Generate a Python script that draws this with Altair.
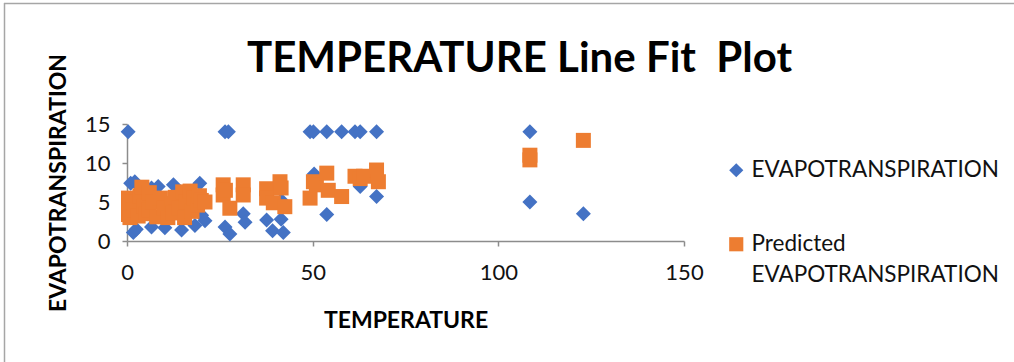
import altair as alt
import pandas as pd

# Observed evapotranspiration vs temperature
temperature_obs = [0.3, 26.4, 27.3, 49.3, 50.2, 53.8, 57.8, 61.4, 62.8, 67.2, 108.5,
                   1.0, 2.1, 6.6, 8.4, 12.5, 19.6,
                   1.7, 2.5, 6.6, 10.2, 14.7, 18.3, 20.1, 21.0,
                   3.0, 10.0, 16.0,
                   26.4, 27.7, 31.3, 31.8, 37.6, 39.2, 41.5, 42.1, 41.6,
                   50.4, 53.8, 62.8, 67.2, 108.5, 122.9]
evapo_obs = [14.0, 14.0, 14.0, 14.0, 14.0, 14.0, 14.0, 14.0, 14.0, 14.0, 14.0,
             7.4, 7.6, 6.8, 7.0, 7.2, 7.4,
             1.1, 1.5, 1.8, 1.7, 1.4, 2.0, 3.3, 2.6,
             4.5, 5.0, 4.0,
             1.8, 0.9, 3.5, 2.4, 2.7, 1.3, 2.8, 1.1, 5.2,
             8.6, 3.4, 7.0, 5.7, 5.0, 3.5]

# Fitted (predicted) evapotranspiration
temperature_pred = [0.4, 0.4, 0.4, 0.8, 1.5, 2.0, 3.0, 3.5, 4.0, 4.5, 5.0, 6.0, 6.0, 7.0,
                    8.0, 9.0, 10.0, 11.0, 12.0, 12.5, 13.0, 14.0, 15.0, 15.5, 16.0, 17.0,
                    17.5, 18.0, 19.0, 19.5, 20.0, 21.0,
                    25.9, 25.9, 27.7, 26.5, 31.3, 31.3, 37.6, 37.6, 39.4, 41.2, 41.5, 42.5,
                    49.3, 50.2, 51.0, 53.8, 54.2, 57.8, 61.4, 62.8, 63.7, 67.2, 67.7,
                    108.5, 108.5, 122.9]
evapo_pred = [5.5, 4.5, 3.4, 3.0, 5.0, 4.0, 3.2, 5.8, 6.9, 4.5, 3.5, 6.2, 4.0, 5.0,
              3.1, 5.5, 4.2, 3.0, 4.8, 3.6, 5.6, 4.2, 6.3, 3.0, 5.0, 6.4,
              3.8, 5.5, 4.6, 5.8, 5.2, 5.0,
              7.2, 5.9, 4.2, 6.5, 7.2, 5.9, 6.7, 5.5, 4.9, 7.6, 6.8, 4.4,
              5.5, 7.6, 7.2, 8.7, 6.5, 5.7, 8.3, 8.0, 8.3, 9.1, 7.6,
              10.4, 11.0, 12.9]

SERIES = ["EVAPOTRANSPIRATION", "Predicted EVAPOTRANSPIRATION"]
COLORS = ["#4472C4", "#ED7D31"]
SHAPES = ["diamond", "square"]
X_TICKS = [0, 50, 100, 150]
Y_TICKS = [0, 5, 10, 15]

obs = pd.DataFrame({"TEMPERATURE": temperature_obs, "value": evapo_obs, "series": SERIES[0]})
pred = pd.DataFrame({"TEMPERATURE": temperature_pred, "value": evapo_pred, "series": SERIES[1]})
df = pd.concat([obs, pred], ignore_index=True)

FONT = "Lato"
AXIS_GRAY = "#8c8c8c"
TEXT = "#111111"

legend = alt.Legend(
    title=None, orient="none", legendX=598, legendY=35,
    labelFont=FONT, labelFontSize=22.5, labelColor=TEXT, labelLimit=400,
    labelOffset=4, symbolSize=200, symbolStrokeWidth=0, rowPadding=51,
    labelExpr="datum.label == 'Predicted EVAPOTRANSPIRATION' ? ['Predicted', 'EVAPOTRANSPIRATION'] : datum.label",
)

points = alt.Chart(df).mark_point(filled=True, size=225, opacity=1).encode(
    x=alt.X("TEMPERATURE:Q",
            scale=alt.Scale(domain=[0, 150], nice=False, zero=False),
            axis=alt.Axis(values=X_TICKS, title="TEMPERATURE", grid=False,
                          tickSize=5, labelPadding=16, labelFlush=False,
                          titleX=278.5, titleY=86, titleBaseline="alphabetic")),
    y=alt.Y("value:Q",
            scale=alt.Scale(domain=[0, 15], nice=False),
            axis=alt.Axis(values=Y_TICKS, title="EVAPOTRANSPIRATION", grid=False,
                          tickSize=5, labelPadding=12,
                          titleX=-57, titleY=58.5, titleBaseline="bottom")),
    color=alt.Color("series:N", scale=alt.Scale(domain=SERIES, range=COLORS), legend=legend),
    shape=alt.Shape("series:N", scale=alt.Scale(domain=SERIES, range=SHAPES), legend=legend),
)

# thin gray border along the left and top edges of the chart
frame_src = alt.Data(values=[{}])
frame_left = alt.Chart(frame_src).mark_rule(color="#a6a6a6", strokeWidth=1.5).encode(
    x=alt.value(-122.5), y=alt.value(-121), y2=alt.value(260))
frame_top = alt.Chart(frame_src).mark_rule(color="#a6a6a6", strokeWidth=1.5).encode(
    x=alt.value(-123), x2=alt.value(900), y=alt.value(-120.5))

chart = alt.layer(frame_left, frame_top, points).properties(
    width=557, height=117,
    autosize=alt.AutoSizeParams(type="none"),
    padding={"left": 127, "top": 124, "right": 330, "bottom": 121},
    title=alt.TitleParams("TEMPERATURE Line Fit\u00a0 Plot", font=FONT, fontSize=42,
                          fontWeight="bold", color="black", anchor="middle",
                          frame="group", baseline="alphabetic",
                          dx=114, dy=112, offset=0),
).configure(
    style={"guide-label": {"lineHeight": 31}}
).configure_view(stroke=None).configure_axis(
    domainColor=AXIS_GRAY, tickColor=AXIS_GRAY, domainWidth=1.5, tickWidth=1.5,
    labelFont=FONT, labelFontSize=22, labelColor=TEXT,
    titleFont=FONT, titleFontSize=23, titleFontWeight="bold", titleColor="black",
)

chart.save("out.html", embed_options={"renderer": "svg", "actions": False})
